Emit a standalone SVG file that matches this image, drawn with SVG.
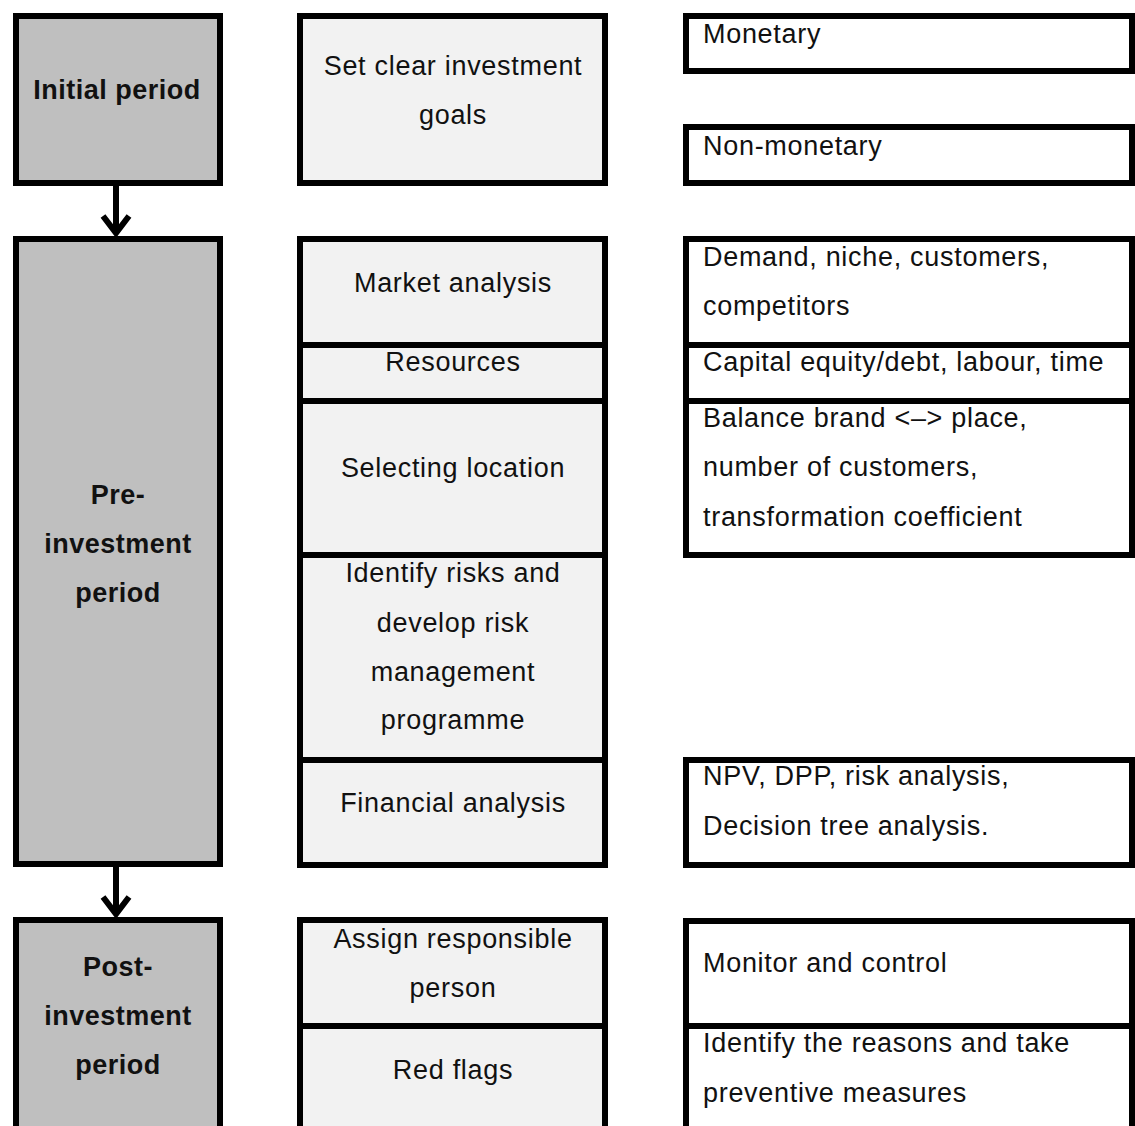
<svg xmlns="http://www.w3.org/2000/svg" width="1135" height="1126" viewBox="0 0 1135 1126">
  <style>
    .box { stroke: #000; stroke-width: 6; }
    .phase { fill: #bfbfbf; }
    .step { fill: #f2f2f2; }
    .detail { fill: #ffffff; }
    text { font-family: "Liberation Sans", Arial, sans-serif; font-size: 27px; letter-spacing: 0.7px; fill: #111; }
    .b { font-weight: bold; letter-spacing: 0.5px; }
    .c { text-anchor: middle; }
    .link { stroke: #000; stroke-width: 6; fill: none; }
  </style>
  <defs>
    <marker id="chevron" markerUnits="userSpaceOnUse" markerWidth="40" markerHeight="40" refX="0" refY="0" orient="auto" overflow="visible">
      <path d="M -17 -13 L 0 0 L -17 13" fill="none" stroke="#000" stroke-width="6"/>
    </marker>
  </defs>
  <rect width="1135" height="1126" fill="#fff"/>

  <!-- Phase column -->
  <g id="initial-period">
    <rect class="box phase" x="16" y="16" width="204" height="167"/>
    <text class="b c" x="117" y="99">Initial period</text>
  </g>
  <g id="pre-investment-period">
    <rect class="box phase" x="16" y="239" width="204" height="625"/>
    <text class="b c" x="118" y="504">Pre-</text>
    <text class="b c" x="118" y="553">investment</text>
    <text class="b c" x="118" y="602">period</text>
  </g>
  <g id="post-investment-period">
    <rect class="box phase" x="16" y="920" width="204" height="230"/>
    <text class="b c" x="118" y="976">Post-</text>
    <text class="b c" x="118" y="1025">investment</text>
    <text class="b c" x="118" y="1074">period</text>
  </g>

  <!-- Step column -->
  <g id="set-goals">
    <rect class="box step" x="300" y="16" width="305" height="167"/>
    <text class="c" x="453" y="75">Set clear investment</text>
    <text class="c" x="453" y="124">goals</text>
  </g>
  <g id="market-analysis">
    <rect class="box step" x="300" y="239" width="305" height="106"/>
    <text class="c" x="453" y="292">Market analysis</text>
  </g>
  <g id="resources">
    <rect class="box step" x="300" y="345" width="305" height="56"/>
    <text class="c" x="453" y="371">Resources</text>
  </g>
  <g id="selecting-location">
    <rect class="box step" x="300" y="401" width="305" height="154"/>
    <text class="c" x="453" y="477">Selecting location</text>
  </g>
  <g id="risk-management">
    <rect class="box step" x="300" y="555" width="305" height="205"/>
    <text class="c" x="453" y="582">Identify risks and</text>
    <text class="c" x="453" y="632">develop risk</text>
    <text class="c" x="453" y="681">management</text>
    <text class="c" x="453" y="729">programme</text>
  </g>
  <g id="financial-analysis">
    <rect class="box step" x="300" y="760" width="305" height="105"/>
    <text class="c" x="453" y="812">Financial analysis</text>
  </g>
  <g id="assign-person">
    <rect class="box step" x="300" y="920" width="305" height="106"/>
    <text class="c" x="453" y="948">Assign responsible</text>
    <text class="c" x="453" y="997">person</text>
  </g>
  <g id="red-flags">
    <rect class="box step" x="300" y="1026" width="305" height="130"/>
    <text class="c" x="453" y="1079">Red flags</text>
  </g>

  <!-- Detail column -->
  <g id="monetary">
    <rect class="box detail" x="686" y="16" width="446" height="55"/>
    <text x="703" y="43">Monetary</text>
  </g>
  <g id="non-monetary">
    <rect class="box detail" x="686" y="127" width="446" height="56"/>
    <text x="703" y="155">Non-monetary</text>
  </g>
  <g id="demand">
    <rect class="box detail" x="686" y="239" width="446" height="106"/>
    <text x="703" y="266">Demand, niche, customers,</text>
    <text x="703" y="315">competitors</text>
  </g>
  <g id="capital">
    <rect class="box detail" x="686" y="345" width="446" height="56"/>
    <text x="703" y="371">Capital equity/debt, labour, time</text>
  </g>
  <g id="location-factors">
    <rect class="box detail" x="686" y="401" width="446" height="154"/>
    <text x="703" y="427">Balance brand &lt;–&gt; place,</text>
    <text x="703" y="476">number of customers,</text>
    <text x="703" y="526">transformation coefficient</text>
  </g>
  <g id="financial-methods">
    <rect class="box detail" x="686" y="760" width="446" height="105"/>
    <text x="703" y="785">NPV, DPP, risk analysis,</text>
    <text x="703" y="835">Decision tree  analysis.</text>
  </g>
  <g id="monitor-control">
    <rect class="box detail" x="686" y="921" width="446" height="105"/>
    <text x="703" y="972">Monitor and control</text>
  </g>
  <g id="preventive-measures">
    <rect class="box detail" x="686" y="1026" width="446" height="130"/>
    <text x="703" y="1052">Identify the reasons and take</text>
    <text x="703" y="1102">preventive measures</text>
  </g>

  <!-- Connectors between phases -->
  <g id="connectors">
    <line class="link" x1="116" y1="186" x2="116" y2="233" marker-end="url(#chevron)"/>
    <line class="link" x1="116" y1="867" x2="116" y2="914" marker-end="url(#chevron)"/>
  </g>
</svg>
